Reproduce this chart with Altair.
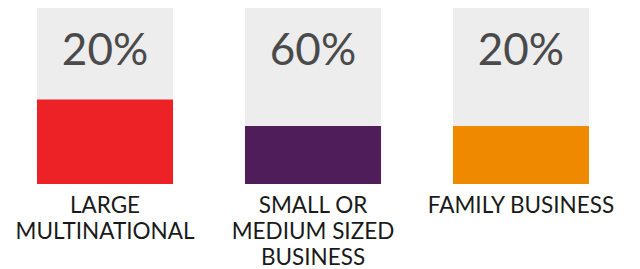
import altair as alt
import pandas as pd

categories = ["LARGE\nMULTINATIONAL", "SMALL OR\nMEDIUM SIZED\nBUSINESS", "FAMILY BUSINESS"]
percent_labels = ["20%", "60%", "20%"]
bar_values = [0.48, 0.33, 0.33]
bar_colors = ["#ED2227", "#4F1E5A", "#EF8900"]
full_values = [1.0, 1.0, 1.0]

df = pd.DataFrame({
    "cat": categories,
    "pct": percent_labels,
    "val": bar_values,
    "full": full_values,
    "color": bar_colors,
})

x = alt.X("cat:N", sort=None, axis=None,
          scale=alt.Scale(range=[29, 581], paddingInner=0.346, paddingOuter=0))
yscale = alt.Scale(domain=[0, 1], nice=False)

base = alt.Chart(df)

bg = base.mark_bar(color="#EDEDED").encode(
    x=x, y=alt.Y("full:Q", scale=yscale, axis=None))

bars = base.mark_bar().encode(
    x=x, y=alt.Y("val:Q", scale=yscale, axis=None),
    color=alt.Color("color:N", scale=None))

pct_text = base.mark_text(font="Lato", fontSize=44, fontWeight=400, color="#4a4a4a",
                          baseline="alphabetic", dy=57).encode(
    x=x, y=alt.Y("full:Q", scale=yscale), text="pct:N")

cat_text = base.mark_text(font="Lato", fontSize=22.5, fontWeight=400, color="#1a1a1a",
                          baseline="top", dy=11, lineBreak="\n",
                          lineHeight=26).encode(
    x=x, y=alt.datum(0, scale=yscale), text="cat:N")

chart = alt.layer(bg, bars, pct_text, cat_text).properties(
    width=624, height=176,
    autosize=alt.AutoSizeParams(type="none"),
    padding={"left": 0, "right": 0, "top": 0, "bottom": 85},
).configure_view(stroke=None)

chart.save("out.html", embed_options={"renderer": "svg", "actions": False})
